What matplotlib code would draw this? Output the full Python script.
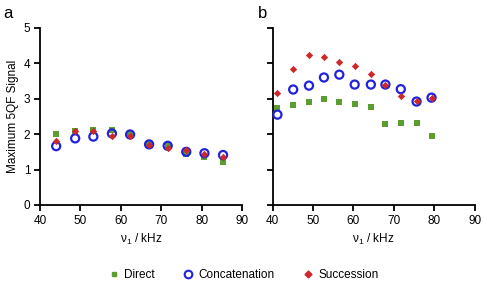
import matplotlib.pyplot as plt
from matplotlib.lines import Line2D

plt.rcParams['font.family'] = ['Liberation Sans', 'DejaVu Sans']

# panel a
nu_a = [44, 48.7, 53.2, 57.8, 62.3, 67, 71.6, 76.2, 80.7, 85.3]
direct_a = [1.99, 2.1, 2.13, 2.13, 2.0, 1.72, 1.68, 1.44, 1.34, 1.22]
concat_a = [1.66, 1.88, 1.93, 2.02, 1.99, 1.71, 1.67, 1.5, 1.46, 1.41]
succ_a = [1.8, 2.1, 2.1, 1.96, 1.95, 1.69, 1.62, 1.55, 1.43, 1.36]

# panel b
nu_b = [41.2, 45.1, 49, 52.7, 56.5, 60.3, 64.3, 67.9, 71.7, 75.6, 79.3]
direct_b = [2.75, 2.83, 2.9, 2.98, 2.9, 2.86, 2.78, 2.3, 2.32, 2.32, 1.96]
concat_b = [2.55, 3.26, 3.37, 3.6, 3.68, 3.4, 3.4, 3.4, 3.27, 2.92, 3.03]
succ_b = [3.17, 3.85, 4.23, 4.19, 4.05, 3.93, 3.69, 3.4, 3.08, 2.93, 3.03]

green = '#5a9e2f'
blue = '#2222dd'
red = '#cc2a2a'

fig = plt.figure(figsize=(4.85, 2.94), dpi=100)
ax_a = fig.add_axes([0.0825, 0.303, 0.4165, 0.602])
ax_b = fig.add_axes([0.562, 0.303, 0.417, 0.602])


def draw(ax, nu, d, c, s):
    ax.scatter(nu, d, marker='s', s=14, color=green, zorder=2, linewidths=0)
    ax.scatter(nu, c, marker='o', s=34, facecolors='none', edgecolors=blue,
               linewidths=1.6, zorder=3)
    ax.scatter(nu, s, marker='D', s=14, color=red, zorder=4, linewidths=0)
    ax.set_xlim(40, 90)
    ax.set_ylim(0, 5)
    ax.set_xticks(range(40, 91, 10))
    ax.set_yticks(range(0, 6))
    for sp in ['top', 'right']:
        ax.spines[sp].set_visible(False)
    for sp in ['left', 'bottom']:
        ax.spines[sp].set_linewidth(1.3)
    ax.tick_params(direction='out', length=4, width=1.3, labelsize=8.5, pad=3)
    ax.set_xlabel(r'$\mathregular{\nu_1}$ / kHz', fontsize=8.5, labelpad=4)
    for p in ax.collections:
        p.set_clip_on(False)


draw(ax_a, nu_a, direct_a, concat_a, succ_a)
draw(ax_b, nu_b, direct_b, concat_b, succ_b)
ax_a.set_ylabel('Maximum 5QF Signal', fontsize=8.5, labelpad=3)
ax_b.set_yticklabels([])

fig.text(0.006, 0.955, 'a', fontsize=12, va='center')
fig.text(0.532, 0.955, 'b', fontsize=12, va='center')

handles = [
    Line2D([], [], marker='s', linestyle='none', color=green, markersize=3.5),
    Line2D([], [], marker='o', linestyle='none', markerfacecolor='none',
           markeredgecolor=blue, markeredgewidth=1.5, markersize=5.5),
    Line2D([], [], marker='D', linestyle='none', color=red, markersize=3.5),
]
fig.legend(handles, ['Direct', 'Concatenation', 'Succession'], loc='center',
           bbox_to_anchor=(0.5, 0.065), ncol=3, frameon=False, fontsize=8.5,
           handletextpad=0.3, columnspacing=2.2, handlelength=1.2)

fig.savefig('out.png', dpi=100)
